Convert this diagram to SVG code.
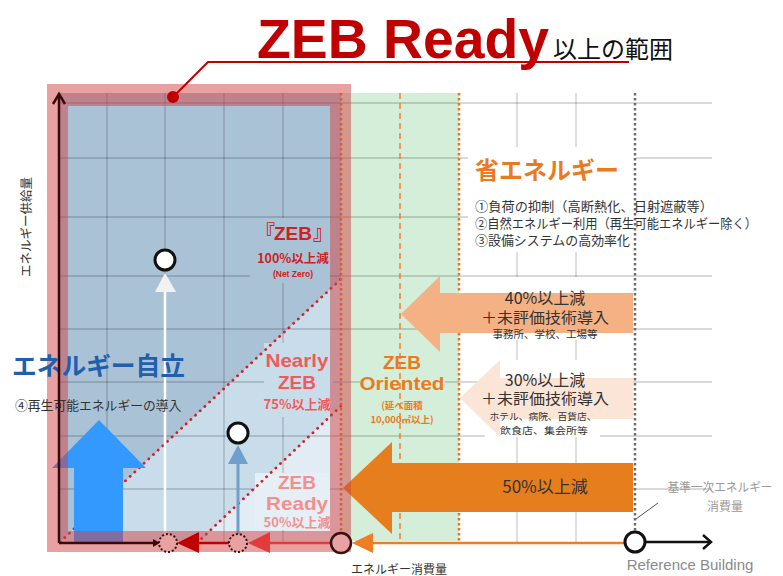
<svg xmlns="http://www.w3.org/2000/svg" width="783" height="576" viewBox="0 0 783 576">
<style>
.jp{font-family:"Noto Sans CJK JP","Liberation Sans",sans-serif}
.lat{font-family:"Liberation Sans","Noto Sans CJK JP",sans-serif}
.b{font-weight:bold}
.grid line{stroke:#000;stroke-opacity:0.2;stroke-width:1.3}
.dots{fill:none;stroke:#d42020;stroke-width:2.8;stroke-dasharray:0.1 6.3;stroke-linecap:round}
.odot{stroke:#f07020;stroke-width:2.5;stroke-dasharray:2.5 2.5}
</style>
<rect width="783" height="576" fill="#fff"/>

<!-- background regions -->
<g id="zone-oriented">
<rect x="341" y="93" width="118" height="448" fill="#d4eed9"/>
</g>
<g id="zone-left">
<rect x="58" y="93" width="283" height="450" fill="#aac2d6"/>
<polygon points="59,543 341,279 341,543" fill="#c9dcea"/>
<polygon points="197,543 341,406 341,543" fill="#e2ecf4"/>
</g>

<!-- grid -->
<g id="grid" class="grid">
<line x1="59" y1="103" x2="712" y2="103"/>
<line x1="59" y1="158" x2="712" y2="158"/>
<line x1="59" y1="217" x2="712" y2="217"/>
<line x1="59" y1="276" x2="712" y2="276"/>
<line x1="59" y1="329" x2="712" y2="329"/>
<line x1="59" y1="382" x2="712" y2="382"/>
<line x1="59" y1="436" x2="712" y2="436"/>
<line x1="59" y1="489" x2="712" y2="489"/>
<line x1="107" y1="93" x2="107" y2="543"/>
<line x1="165" y1="93" x2="165" y2="543"/>
<line x1="224" y1="93" x2="224" y2="543"/>
<line x1="283" y1="93" x2="283" y2="543"/>
<line x1="517" y1="93" x2="517" y2="543"/>
<line x1="576" y1="93" x2="576" y2="543"/>
</g>

<!-- label backgrounds -->
<g id="label-backs">
<rect x="250" y="218" width="80" height="65" fill="#aac2d6"/>
<rect x="264" y="343" width="69" height="74" fill="#c9dcea"/>
<rect x="255" y="473" width="75" height="57" fill="#e6eff6"/>
<rect x="360" y="343" width="85" height="89" fill="#d4eed9"/>
<rect x="468" y="147" width="168" height="105" fill="#fff"/>
<rect x="468" y="196" width="295" height="56" fill="#fff"/>
<rect x="485" y="277" width="115" height="63" fill="#fff"/>
<rect x="485" y="360" width="115" height="77" fill="#fff"/>
</g>

<!-- diagonal boundaries -->
<g id="boundaries">
<line class="dots" x1="60" y1="542" x2="341" y2="279"/>
<line class="dots" x1="197" y1="543" x2="341" y2="406"/>
</g>

<!-- vertical markers -->
<g id="thresholds">
<line class="odot" x1="341" y1="93" x2="341" y2="541"/>
<line x1="400" y1="93" x2="400" y2="541" stroke="#f07020" stroke-width="1.3" stroke-dasharray="6 4"/>
<line class="odot" x1="459" y1="93" x2="459" y2="541"/>
<line x1="635" y1="93" x2="635" y2="532" stroke="#6e6e6e" stroke-width="2.5" stroke-dasharray="2.5 2.5"/>
</g>

<!-- arrows (connectors) -->
<g id="connectors">
<polygon points="99,420 146,468 123,468 123,543 74,543 74,468 52,468" fill="#3399ff"/>
<line x1="165" y1="290" x2="165" y2="543" stroke="#fff" stroke-width="2.5"/>
<polygon points="165,273 176,292 155,292" fill="#f2f2f2"/>
<line x1="238" y1="462" x2="238" y2="535" stroke="#6fa0cb" stroke-width="3"/>
<polygon points="238,445 248,464 228,464" fill="#6fa0cb"/>
<polygon points="401,314 440,276 440,293 633,293 633,333 440,333 440,352" fill="#f4b183"/>
<polygon points="460,398 500,360 500,378 633,378 633,419 500,419 500,437" fill="#fbe5d6"/>
<polygon points="343,488 392,442 392,463 633,463 633,512 392,512 392,534" fill="#e77e1d"/>
</g>

<!-- ZEB Ready range frame -->
<g id="ready-frame">
<path d="M47,84H351V552H47Z M68,106V531H330V106Z" fill="#d24141" fill-opacity="0.5" fill-rule="evenodd"/>
</g>

<!-- title -->
<g id="title">
<text x="257" y="58" class="lat b" font-size="55" fill="#c00000" textLength="292" lengthAdjust="spacingAndGlyphs">ZEB Ready</text>
<text x="553" y="58" class="jp" font-size="24" fill="#111">以上の範囲</text>
<polyline points="173,97 208,62 629,62" fill="none" stroke="#c00000" stroke-width="2"/>
<circle cx="173" cy="97" r="6" fill="#c00000"/>
</g>

<!-- labels -->
<g id="zeb">
<text x="255" y="240" class="jp b" font-size="20" fill="#d02020">『</text>
<text x="293" y="240" class="lat b" font-size="19" fill="#d02020" text-anchor="middle">ZEB</text>
<text x="313" y="240" class="jp b" font-size="20" fill="#d02020">』</text>
<text x="293" y="263" class="jp b" font-size="12.5" fill="#d02020" text-anchor="middle">100%以上減</text>
<text x="293" y="277" class="lat b" font-size="8.5" fill="#d02020" text-anchor="middle">(Net Zero)</text>
</g>
<g id="nearly-zeb" fill="#f25a5a" text-anchor="middle">
<text x="297" y="367" class="lat b" font-size="19" textLength="63" lengthAdjust="spacingAndGlyphs">Nearly</text>
<text x="297" y="389" class="lat b" font-size="19">ZEB</text>
<text x="297" y="409" class="jp b" font-size="13">75%以上減</text>
</g>
<g id="zeb-ready" fill="#f29090" text-anchor="middle">
<text x="297" y="489" class="lat b" font-size="19">ZEB</text>
<text x="297" y="510" class="lat b" font-size="19" textLength="62" lengthAdjust="spacingAndGlyphs">Ready</text>
<text x="297" y="527" class="jp b" font-size="13">50%以上減</text>
</g>
<g id="zeb-oriented" fill="#ec7a1c" text-anchor="middle">
<text x="402" y="369" class="lat b" font-size="19">ZEB</text>
<text x="402" y="390" class="lat b" font-size="19" textLength="85" lengthAdjust="spacingAndGlyphs">Oriented</text>
<text x="402" y="409" class="jp b" font-size="9.5">(延べ面積</text>
<text x="402" y="423" class="jp b" font-size="9.5">10,000㎡以上)</text>
</g>
<g id="energy-saving">
<text x="475" y="179" class="jp b" font-size="24" fill="#e97a1f">省エネルギー</text>
<text x="475" y="211" class="jp" font-size="13" fill="#333" textLength="238" lengthAdjust="spacingAndGlyphs">①負荷の抑制（高断熱化、日射遮蔽等）</text>
<text x="475" y="228" class="jp" font-size="13" fill="#333" textLength="282" lengthAdjust="spacingAndGlyphs">②自然エネルギー利用（再生可能エネルギー除く）</text>
<text x="475" y="245" class="jp" font-size="13" fill="#333" textLength="155" lengthAdjust="spacingAndGlyphs">③設備システムの高効率化</text>
</g>
<g id="arrow-40" class="jp" fill="#333" text-anchor="middle">
<text x="545" y="304" font-size="16">40%以上減</text>
<text x="545" y="323" font-size="15" textLength="128" lengthAdjust="spacingAndGlyphs">＋未評価技術導入</text>
<text x="545" y="338" font-size="10.5">事務所、学校、工場等</text>
</g>
<g id="arrow-30" class="jp" fill="#333" text-anchor="middle">
<text x="545" y="386" font-size="16">30%以上減</text>
<text x="545" y="404" font-size="15" textLength="128" lengthAdjust="spacingAndGlyphs">＋未評価技術導入</text>
<text x="543" y="420" font-size="9.5" textLength="107" lengthAdjust="spacingAndGlyphs">ホテル、病院、百貨店、</text>
<text x="544" y="434" font-size="9.5" textLength="88" lengthAdjust="spacingAndGlyphs">飲食店、集会所等</text>
</g>
<g id="arrow-50" class="jp" fill="#333" text-anchor="middle">
<text x="545" y="493" font-size="17">50%以上減</text>
</g>
<g id="self-sufficiency">
<text x="12" y="375" class="jp b" font-size="24.5" fill="#1f5fad" textLength="173" lengthAdjust="spacingAndGlyphs">エネルギー自立</text>
<text x="15" y="410" class="jp" font-size="12.8" fill="#333">④再生可能エネルギーの導入</text>
</g>
<g id="reference-label">
<line x1="658" y1="503" x2="636" y2="519" stroke="#555" stroke-width="1"/>
<text x="720" y="492" class="jp" font-size="12" fill="#9a9a9a" text-anchor="middle" textLength="105" lengthAdjust="spacingAndGlyphs">基準一次エネルギー</text>
<text x="725" y="511" class="jp" font-size="12" fill="#9a9a9a" text-anchor="middle">消費量</text>
<text x="690" y="570" class="lat" font-size="15" fill="#8a8a8a" text-anchor="middle">Reference Building</text>
</g>
<g id="axes">
<text x="399" y="574" class="jp" font-size="12" fill="#333" text-anchor="middle">エネルギー消費量</text>
<text transform="translate(31,227) rotate(-90)" class="jp" font-size="12.5" fill="#333" text-anchor="middle">エネルギー供給量</text>
<line x1="59" y1="543" x2="59" y2="95" stroke="#3a0a0a" stroke-width="2.5"/>
<polyline points="53,104 59,94 65,104" fill="none" stroke="#3a0a0a" stroke-width="2.5"/>
<line x1="59" y1="543" x2="155" y2="543" stroke="#3a0a0a" stroke-width="2.5"/>
<polygon points="160,543 153,539 153,547" fill="#3a0a0a"/>
<line x1="190" y1="543" x2="229" y2="543" stroke="#c00000" stroke-width="2.5"/>
<polygon points="177,543 199,532 199,553" fill="#c00000"/>
<line x1="262" y1="543" x2="331" y2="543" stroke="#e03c3c" stroke-width="2.5"/>
<polygon points="248,543 270,532 270,553" fill="#e03c3c"/>
<line x1="365" y1="543" x2="625" y2="543" stroke="#ef7d22" stroke-width="2.5"/>
<polygon points="352,543 373,533 373,553" fill="#ef7d22"/>
<line x1="645" y1="542" x2="710" y2="542" stroke="#111" stroke-width="2.5"/>
<polyline points="703,535 711,542 703,549" fill="none" stroke="#111" stroke-width="2.5"/>
</g>
<g id="points">
<circle cx="168" cy="543" r="9" fill="#e8a2a2" stroke="#3a1010" stroke-width="2" stroke-dasharray="2 2"/>
<circle cx="238" cy="543" r="9" fill="#e8a2a2" stroke="#3a1010" stroke-width="2" stroke-dasharray="2 2"/>
<circle cx="341" cy="543" r="10" fill="#e8a2a2" stroke="#3a1010" stroke-width="2.5"/>
<circle cx="635" cy="542" r="10" fill="#fff" stroke="#111" stroke-width="3"/>
<circle cx="165" cy="260" r="10" fill="#fff" stroke="#111" stroke-width="3"/>
<circle cx="238" cy="433" r="10" fill="#fff" stroke="#111" stroke-width="3"/>
</g>
</svg>
